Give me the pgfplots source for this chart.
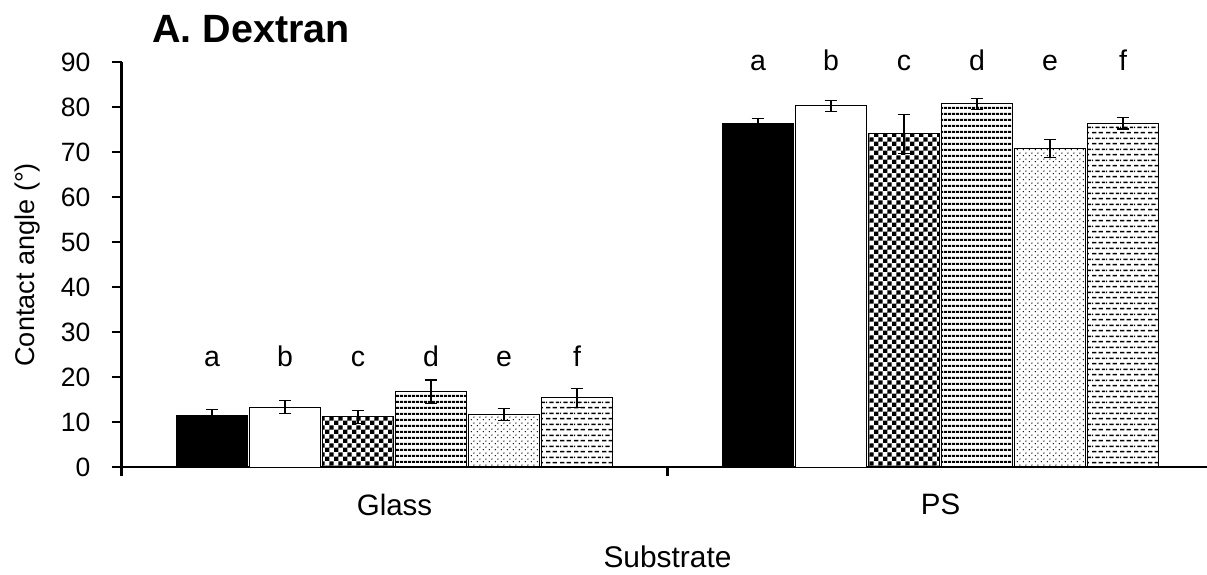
\documentclass[border=0pt]{standalone}
\usepackage{pgfplots}
\pgfplotsset{compat=1.18}
\usepackage{fontspec}
\setmainfont{Liberation Sans}
\usetikzlibrary{patterns}
\tikzset{lbl/.style={anchor=base, font=\fontsize{14.3}{16}\selectfont, inner sep=0pt}}

\pgfdeclarepatternformonly{mychecker}{\pgfpointorigin}{\pgfpoint{4.4bp}{4.4bp}}{\pgfpoint{4.4bp}{4.4bp}}{%
  \pgfpathrectangle{\pgfpointorigin}{\pgfpoint{2.2bp}{2.2bp}}%
  \pgfpathrectangle{\pgfpoint{2.2bp}{2.2bp}}{\pgfpoint{2.2bp}{2.2bp}}%
  \pgfusepath{fill}}
\pgfdeclarepatternformonly{myhlines}{\pgfpointorigin}{\pgfpoint{2bp}{2.8bp}}{\pgfpoint{2bp}{2.8bp}}{%
  \pgfpathrectangle{\pgfpointorigin}{\pgfpoint{2bp}{1.2bp}}%
  \pgfusepath{fill}}
\pgfdeclarepatternformonly{mydots}{\pgfpointorigin}{\pgfpoint{2.8bp}{2.8bp}}{\pgfpoint{2.8bp}{2.8bp}}{%
  \pgfpathcircle{\pgfpoint{0.7bp}{0.7bp}}{0.38bp}%
  \pgfpathcircle{\pgfpoint{2.1bp}{2.1bp}}{0.38bp}%
  \pgfusepath{fill}}
\pgfdeclarepatternformonly{mydashes}{\pgfpointorigin}{\pgfpoint{7bp}{5.6bp}}{\pgfpoint{7bp}{5.6bp}}{%
  \pgfpathrectangle{\pgfpoint{0bp}{0.4bp}}{\pgfpoint{2.3bp}{0.75bp}}%
  \pgfpathrectangle{\pgfpoint{3.5bp}{0.4bp}}{\pgfpoint{2.3bp}{0.75bp}}%
  \pgfpathrectangle{\pgfpoint{1.75bp}{3.2bp}}{\pgfpoint{2.3bp}{0.75bp}}%
  \pgfpathrectangle{\pgfpoint{5.25bp}{3.2bp}}{\pgfpoint{1.75bp}{0.75bp}}%
  \pgfpathrectangle{\pgfpoint{0bp}{3.2bp}}{\pgfpoint{0.55bp}{0.75bp}}%
  \pgfusepath{fill}}

\begin{document}
\begin{tikzpicture}
\begin{axis}[
  scale only axis,
  width=546bp, height=202.5bp,
  xmin=0, xmax=2, ymin=0, ymax=90,
  axis x line*=bottom, axis y line*=left,
  axis line style={line width=1.1bp},
  ytick={0,10,...,90},
  xtick={0,1,2},
  xticklabels={},
  extra x ticks={0.5,1.5},
  extra x tick labels={Glass,PS},
  extra x tick style={major tick length=0pt, tick label style={yshift=-10bp}},
  tick align=outside,
  major tick length=4.5bp,
  tick style={line width=1.1bp, black},
  yticklabel style={font=\fontsize{13.3}{15}\selectfont, xshift=-7.5bp},
  xticklabel style={font=\fontsize{14.8}{16}\selectfont},
  /pgf/number format/assume math mode=true,
  ylabel={Contact angle (°)},
  ylabel style={font=\fontsize{13.6}{15}\selectfont, yshift=3.5bp},
  xlabel={Substrate},
  xlabel style={font=\fontsize{15}{17}\selectfont, yshift=-3.5bp},
  ybar, bar width=0.131, bar shift=0pt,
  clip=false,
  error bars/y dir=both, error bars/y explicit,
  error bars/error bar style={line width=0.6bp, black},
  error bars/error mark options={rotate=90, mark size=3.2bp, line width=0.6bp, black},
]
\addplot[draw=black, line width=0.5bp, fill=black] coordinates {(0.1658,11.5) +- (0,1.3) (1.1658,76.3) +- (0,1.2)};
\addplot[draw=black, line width=0.5bp, fill=white] coordinates {(0.2995,13.4) +- (0,1.5) (1.2995,80.3) +- (0,1.2)};
\addplot[draw=black, line width=0.5bp, pattern=mychecker, pattern color=black] coordinates {(0.4332,11.2) +- (0,1.4) (1.4332,74.1) +- (0,4.3)};
\addplot[draw=black, line width=0.5bp, pattern=myhlines, pattern color=black] coordinates {(0.5669,16.8) +- (0,2.6) (1.5669,80.8) +- (0,1.2)};
\addplot[draw=black, line width=0.5bp, pattern=mydots, pattern color=black] coordinates {(0.7006,11.75) +- (0,1.3) (1.7006,70.8) +- (0,2.0)};
\addplot[draw=black, line width=0.5bp, pattern=mydashes, pattern color=black] coordinates {(0.8343,15.45) +- (0,2.1) (1.8343,76.5) +- (0,1.3)};
\node[lbl] at (axis cs:0.1658,22.3) {a};
\node[lbl] at (axis cs:0.2995,22.3) {b};
\node[lbl] at (axis cs:0.4332,22.3) {c};
\node[lbl] at (axis cs:0.5669,22.3) {d};
\node[lbl] at (axis cs:0.7006,22.3) {e};
\node[lbl] at (axis cs:0.8343,22.3) {f};
\node[lbl] at (axis cs:1.1658,88.1) {a};
\node[lbl] at (axis cs:1.2995,88.1) {b};
\node[lbl] at (axis cs:1.4332,88.1) {c};
\node[lbl] at (axis cs:1.5669,88.1) {d};
\node[lbl] at (axis cs:1.7006,88.1) {e};
\node[lbl] at (axis cs:1.8343,88.1) {f};
\end{axis}
\node[anchor=base west, font=\bfseries\fontsize{19.8}{22}\selectfont, inner sep=0pt] at (15.25bp,212.15bp) {A. Dextran};
\pgfresetboundingbox
\path[use as bounding box] (-60.75bp,-53.85bp) rectangle (542.75bp,233.65bp);
\end{tikzpicture}
\end{document}
